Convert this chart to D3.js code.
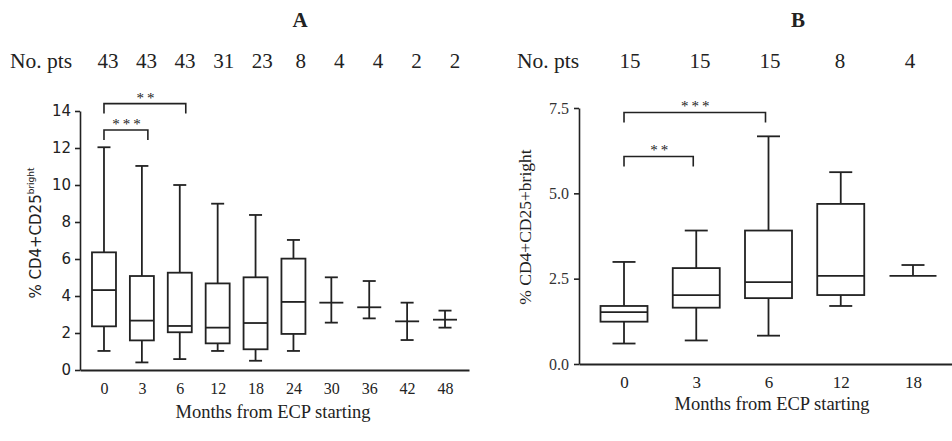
<!DOCTYPE html>
<html>
<head>
<meta charset="utf-8">
<script src="https://cdn.jsdelivr.net/npm/d3@7"></script>
<style>
  body { margin: 0; background: #fff; }
  svg { display: block; }
</style>
</head>
<body>
<svg></svg>
<script>
const width = 952;
const height = 441;

// panel A: all patients
const monthsA = ['0', '3', '6', '12', '18', '24', '30', '36', '42', '48'];
const nPtsA = [43, 43, 43, 31, 23, 8, 4, 4, 2, 2];
const minA = [1.03, 0.41, 0.59, 1.03, 0.50, 1.03, 2.56, 2.79, 1.62, 2.29];
const q1A = [2.36, 1.60, 2.04, 1.44, 1.12, 1.95, null, null, null, null];
const medA = [4.32, 2.67, 2.38, 2.29, 2.54, 3.68, 3.64, 3.39, 2.63, 2.72];
const q3A = [6.36, 5.08, 5.26, 4.68, 5.01, 6.02, null, null, null, null];
const maxA = [12.04, 11.03, 10.0, 8.99, 8.38, 7.03, 5.01, 4.81, 3.64, 3.21];
const ticksA = [0, 2, 4, 6, 8, 10, 12, 14];
const sigA = [
    { from: '0', to: '3', y: 12.97, label: '***' },
    { from: '0', to: '6', y: 14.4, label: '**' }
];

// panel B
const monthsB = ['0', '3', '6', '12', '18'];
const nPtsB = [15, 15, 15, 8, 4];
const minB = [0.60, 0.69, 0.83, 1.70, 2.58];
const q1B = [1.24, 1.65, 1.93, 2.02, null];
const medB = [1.52, 2.02, 2.40, 2.58, 2.58];
const q3B = [1.70, 2.81, 3.91, 4.69, null];
const maxB = [2.99, 3.91, 6.67, 5.62, 2.90];
const ticksB = [0, 2.5, 5, 7.5];
const sigB = [
    { from: '0', to: '3', y: 6.08, label: '**' },
    { from: '0', to: '6', y: 7.37, label: '***' }
];

const serif = "'Liberation Serif', 'Times New Roman', serif";
const sans = "'DejaVu Sans', Verdana, sans-serif";
const ink = '#222';

const svg = d3.select('svg')
    .attr('width', width)
    .attr('height', height)
    .style('background', '#fff');

function drawPanel(p) {
    const g = svg.append('g');

    const x = d3.scalePoint()
        .domain(p.months)
        .range(p.xRange)
        .padding(p.xPad);

    const y = d3.scaleLinear()
        .domain([0, p.yMax])
        .range(p.yRange);

    const rows = p.months.map((m, i) => ({
        month: m,
        n: p.nPts[i],
        min: p.min[i],
        q1: p.q1[i],
        med: p.med[i],
        q3: p.q3[i],
        max: p.max[i]
    }));

    // title and patient counts
    g.append('text')
        .attr('x', p.titleX)
        .attr('y', 27)
        .attr('text-anchor', 'middle')
        .style('font-family', serif)
        .style('font-weight', 'bold')
        .style('font-size', '21px')
        .style('fill', ink)
        .text(p.title);

    g.append('text')
        .attr('x', p.nLabelX)
        .attr('y', 68)
        .style('font-family', serif)
        .style('font-size', '21.5px')
        .style('fill', ink)
        .text('No. pts');

    const nScale = d3.scalePoint().domain(p.months).range(p.nRange);
    g.selectAll('.npts')
        .data(rows)
        .enter()
        .append('text')
        .attr('class', 'npts')
        .attr('x', d => nScale(d.month))
        .attr('y', 68)
        .attr('text-anchor', 'middle')
        .style('font-family', serif)
        .style('font-size', '21px')
        .style('fill', ink)
        .text(d => d.n);

    // axes
    const yAxis = d3.axisLeft(y)
        .tickValues(p.ticks)
        .tickFormat(p.tickFormat)
        .tickSize(5)
        .tickSizeOuter(0)
        .tickPadding(p.yPad);

    const yg = g.append('g')
        .attr('transform', 'translate(' + p.xRange[0] + ',0)')
        .call(yAxis);
    yg.selectAll('path, line').attr('stroke', ink).attr('stroke-width', 1.6);
    yg.selectAll('text')
        .style('font-family', p.yFont)
        .style('font-size', p.yFontSize)
        .style('fill', p.yColor);

    const xAxis = d3.axisBottom(x)
        .tickSize(0)
        .tickSizeOuter(0)
        .tickPadding(p.xTickPad);

    const xg = g.append('g')
        .attr('transform', 'translate(0,' + p.yRange[0] + ')')
        .call(xAxis);
    xg.select('.domain').attr('stroke', ink).attr('stroke-width', 1.8);
    xg.selectAll('text')
        .style('font-family', serif)
        .style('font-size', p.xFontSize)
        .style('fill', ink);

    g.append('text')
        .attr('x', p.xTitleX)
        .attr('y', p.xTitleY)
        .attr('text-anchor', 'middle')
        .style('font-family', serif)
        .style('font-size', '18.5px')
        .style('fill', ink)
        .text('Months from ECP starting');

    // y label
    const yl = g.append('text')
        .attr('transform', 'translate(' + p.yLabelX + ',' + p.yLabelY + ') rotate(-90)')
        .attr('text-anchor', 'middle')
        .style('font-family', p.yLabelFont)
        .style('font-size', p.yLabelSize)
        .style('fill', ink);
    yl.append('tspan').text(p.yLabel);
    if (p.yLabelSup) {
        yl.append('tspan')
            .attr('dy', '-7')
            .style('font-size', '9px')
            .text(p.yLabelSup);
    }

    // boxes
    const box = g.selectAll('.box')
        .data(rows)
        .enter()
        .append('g')
        .attr('class', 'box')
        .attr('stroke', ink)
        .attr('stroke-width', 1.8)
        .attr('fill', 'none');

    const hw = p.boxHalf;
    const cw = p.capHalf;

    box.filter(d => d.q1 !== null)
        .append('rect')
        .attr('x', d => x(d.month) - hw)
        .attr('y', d => y(d.q3))
        .attr('width', hw * 2)
        .attr('height', d => y(d.q1) - y(d.q3));

    // whiskers
    box.append('line')
        .attr('x1', d => x(d.month))
        .attr('x2', d => x(d.month))
        .attr('y1', d => y(d.max))
        .attr('y2', d => y(d.q3 !== null ? d.q3 : d.min));
    box.filter(d => d.q1 !== null)
        .append('line')
        .attr('x1', d => x(d.month))
        .attr('x2', d => x(d.month))
        .attr('y1', d => y(d.q1))
        .attr('y2', d => y(d.min));

    // caps
    box.append('line')
        .attr('x1', d => x(d.month) - cw)
        .attr('x2', d => x(d.month) + cw)
        .attr('y1', d => y(d.max))
        .attr('y2', d => y(d.max));
    box.filter(d => d.min < d.med)
        .append('line')
        .attr('x1', d => x(d.month) - cw)
        .attr('x2', d => x(d.month) + cw)
        .attr('y1', d => y(d.min))
        .attr('y2', d => y(d.min));

    // median
    box.append('line')
        .attr('x1', d => x(d.month) - hw)
        .attr('x2', d => x(d.month) + hw)
        .attr('y1', d => y(d.med))
        .attr('y2', d => y(d.med));

    // significance brackets
    const sig = g.selectAll('.sig')
        .data(p.sig)
        .enter()
        .append('g')
        .attr('class', 'sig');

    sig.append('path')
        .attr('d', d => {
            const x1 = x(d.from);
            const x2 = x(d.to) + p.sigNudge;
            const yy = y(d.y);
            return 'M' + x1 + ',' + (yy + 10) + 'V' + yy + 'H' + x2 + 'V' + (yy + 10);
        })
        .attr('fill', 'none')
        .attr('stroke', ink)
        .attr('stroke-width', 1.6);

    sig.append('text')
        .attr('x', d => (x(d.from) + x(d.to) + p.sigNudge) / 2 + 2)
        .attr('y', d => y(d.y) - 1)
        .attr('text-anchor', 'middle')
        .style('font-family', serif)
        .style('font-size', '15px')
        .style('letter-spacing', '3px')
        .style('fill', ink)
        .text(d => d.label);
}

drawPanel({
    title: 'A', titleX: 300,
    months: monthsA, nPts: nPtsA,
    min: minA, q1: q1A, med: medA, q3: q3A, max: maxA,
    ticks: ticksA, tickFormat: d3.format('d'), yMax: 14,
    sig: sigA, sigNudge: 6,
    xRange: [80, 469], xPad: 0.633, yRange: [370, 111],
    nLabelX: 10, nRange: [108, 455],
    yPad: 4, yFont: sans, yFontSize: '15px', yColor: ink,
    xTickPad: 13, xFontSize: '16px',
    xTitleX: 273, xTitleY: 418,
    yLabel: '% CD4+CD25', yLabelSup: 'bright',
    yLabelX: 41, yLabelY: 233, yLabelFont: sans, yLabelSize: '15px',
    boxHalf: 12, capHalf: 6.5
});

drawPanel({
    title: 'B', titleX: 798,
    months: monthsB, nPts: nPtsB,
    min: minB, q1: q1B, med: medB, q3: q3B, max: maxB,
    ticks: ticksB, tickFormat: d3.format('.1f'), yMax: 7.5,
    sig: sigB, sigNudge: -3,
    xRange: [579, 958], xPad: 0.623, yRange: [364, 108],
    nLabelX: 517, nRange: [630, 910],
    yPad: 5, yFont: serif, yFontSize: '16px', yColor: '#333',
    xTickPad: 12, xFontSize: '17px',
    xTitleX: 772, xTitleY: 410,
    yLabel: '% CD4+CD25+bright', yLabelSup: null,
    yLabelX: 531, yLabelY: 227, yLabelFont: serif, yLabelSize: '17.5px',
    boxHalf: 23.5, capHalf: 11.5
});
</script>
</body>
</html>
